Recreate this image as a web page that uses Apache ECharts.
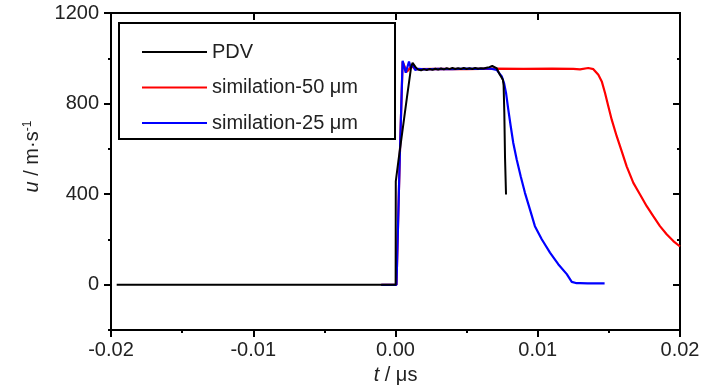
<!DOCTYPE html>
<html>
<head>
<meta charset="utf-8">
<script src="https://cdn.jsdelivr.net/npm/echarts@6/dist/echarts.min.js"></script>
<style>
html,body{margin:0;padding:0;background:#fff;}
#c{width:726px;height:390px;}
</style>
</head>
<body>
<div id="c"></div>
<script>
// ---- data ----
const seriesNames = ['PDV', 'similation-50 μm', 'similation-25 μm'];

const tPDV = [-0.0196, 0.00001, 0.00002, 0.0002, 0.0005, 0.0008, 0.0011, 0.0012, 0.0014,
  0.0016, 0.0018, 0.0020, 0.0022, 0.0024, 0.0026, 0.0028, 0.0030, 0.0032, 0.0034, 0.0036,
  0.0038, 0.0040, 0.0042, 0.0044, 0.0046, 0.0048, 0.0050, 0.0052, 0.0054, 0.0056, 0.0058,
  0.0060, 0.0062, 0.0064, 0.0066, 0.0068, 0.0069, 0.0071, 0.0073, 0.00755, 0.0076, 0.00765,
  0.0077, 0.00777];
const uPDV = [0, 0, 457, 545, 685, 825, 962, 980, 962,
  950, 947, 952, 948, 953, 949, 954, 950, 955, 951, 956,
  952, 957, 953, 956, 953, 957, 953, 956, 953, 957, 954,
  956, 955, 958, 961, 966, 970, 957, 932, 905, 880, 760,
  560, 399];

const t50 = [-0.001, 0.00007, 0.0003, 0.0005, 0.0008, 0.0011, 0.0015, 0.003, 0.005, 0.007,
  0.009, 0.011, 0.0125, 0.01297, 0.01355, 0.01391, 0.01426, 0.0145, 0.01473, 0.01496,
  0.0152, 0.01555, 0.0159, 0.01625, 0.01672, 0.01719, 0.01766, 0.01812, 0.01859, 0.01906,
  0.01953, 0.0200];
const u50 = [0, 0, 560, 985, 940, 965, 952, 953, 952, 954,
  953, 954, 953, 951, 957, 952, 927, 898, 847, 788,
  729, 656, 590, 523, 450, 399, 347, 303, 259, 223,
  193, 169];

const t25 = [-0.001, 0.00007, 0.0003, 0.0005, 0.00072, 0.00095, 0.00107, 0.00123, 0.00137,
  0.0016, 0.002, 0.003, 0.004, 0.005, 0.006, 0.00664, 0.00711, 0.00747, 0.00763, 0.00777,
  0.00793, 0.0081, 0.00828, 0.00852, 0.0088, 0.0091, 0.00945, 0.0098, 0.01028, 0.01086,
  0.01144, 0.01204, 0.01239, 0.01274, 0.01297, 0.0135, 0.0147];
const u25 = [0, 0, 560, 989, 936, 986, 958, 971, 949,
  953, 951, 953, 952, 954, 953, 955, 949, 920, 891, 847,
  773, 700, 626, 553, 479, 406, 333, 259, 201, 142,
  91, 47, 13, 7, 7, 6, 6];

const xTickLabels = ['-0.02', '-0.01', '0.00', '0.01', '0.02'];
const yMajor = [0, 400, 800, 1200];
const yMinor = [-200, 200, 600, 1000];
// ---------------------------------------

const zip = (a, b) => a.map((v, i) => [v, b[i]]);
const FONT = 'Liberation Sans, Arial, sans-serif';
const TXT = '#222';
const axisLine = {show: true, onZero: false, lineStyle: {color: '#000', width: 2}};

function xAx(pos, labels) {
  return {
    type: 'value', position: pos, min: -0.02, max: 0.02, interval: 0.01,
    axisLine: axisLine,
    axisTick: {show: true, inside: pos === 'top', length: 7, lineStyle: {color: '#000', width: 2}},
    minorTick: {show: pos === 'bottom', splitNumber: 2, length: 3, lineStyle: {color: '#000', width: 2}},
    splitLine: {show: false}, minorSplitLine: {show: false},
    axisLabel: {show: labels, margin: 10, color: TXT, fontSize: 20, fontFamily: FONT,
      formatter: (v) => xTickLabels[Math.round((v + 0.02) / 0.01)] ?? ''},
    name: labels ? '{i|t} / μs' : '', nameLocation: 'middle', nameGap: 33,
    nameTextStyle: {color: TXT, fontSize: 20, fontFamily: FONT,
      rich: {i: {fontStyle: 'italic', fontSize: 20, fontFamily: FONT, color: TXT}}}
  };
}
function yAx(pos, major, labels) {
  const vals = major ? yMajor : yMinor;
  return {
    type: 'value', position: pos, min: -200, max: 1200, interval: 200,
    axisLine: axisLine,
    axisTick: {show: true, inside: pos === 'right', length: major ? 7 : 3,
      customValues: vals, lineStyle: {color: '#000', width: 2}},
    splitLine: {show: false},
    axisLabel: {show: labels, customValues: yMajor, margin: 12, color: TXT, fontSize: 20, fontFamily: FONT,
      formatter: (v) => String(v)},
    name: labels ? '{i|u} / m·s{sup|-1}' : '', nameLocation: 'middle', nameGap: 66, nameRotate: 90,
    nameTextStyle: {color: TXT, fontSize: 20, fontFamily: FONT, padding: [0, 0, 0, 30],
      rich: {
        i: {fontStyle: 'italic', fontSize: 20, fontFamily: FONT, color: TXT, lineHeight: 22},
        sup: {fontSize: 12, fontFamily: FONT, color: TXT, verticalAlign: 'top', lineHeight: 22, padding: [0, 0, 10, 0]}
      }}
  };
}

const chart = echarts.init(document.getElementById('c'), null, {renderer: 'canvas'});
chart.setOption({
  animation: false,
  backgroundColor: '#fff',
  grid: {left: 111, right: 46, top: 13, bottom: 59, containLabel: false},
  xAxis: [xAx('bottom', true), xAx('top', false)],
  yAxis: [yAx('left', true, true), yAx('left', false, false), yAx('right', true, false), yAx('right', false, false)],
  legend: {
    data: seriesNames, orient: 'vertical', left: 119, top: 23,
    icon: 'rect', itemWidth: 65, itemHeight: 2, itemGap: 13.5,
    padding: [18, 37, 5, 23],
    borderColor: '#000', borderWidth: 2, backgroundColor: '#fff',
    textStyle: {color: TXT, fontSize: 20, fontFamily: FONT, lineHeight: 22}
  },
  series: [
    {name: seriesNames[0], type: 'line', data: zip(tPDV, uPDV), showSymbol: false, symbol: 'none',
      lineStyle: {color: '#000', width: 2}, itemStyle: {color: '#000'}, z: 4},
    {name: seriesNames[1], type: 'line', data: zip(t50, u50), showSymbol: false, symbol: 'none',
      lineStyle: {color: '#ff0000', width: 2.2}, itemStyle: {color: '#ff0000'}, z: 2},
    {name: seriesNames[2], type: 'line', data: zip(t25, u25), showSymbol: false, symbol: 'none',
      lineStyle: {color: '#0000ff', width: 2.2}, itemStyle: {color: '#0000ff'}, z: 3}
  ]
});
</script>
</body>
</html>
